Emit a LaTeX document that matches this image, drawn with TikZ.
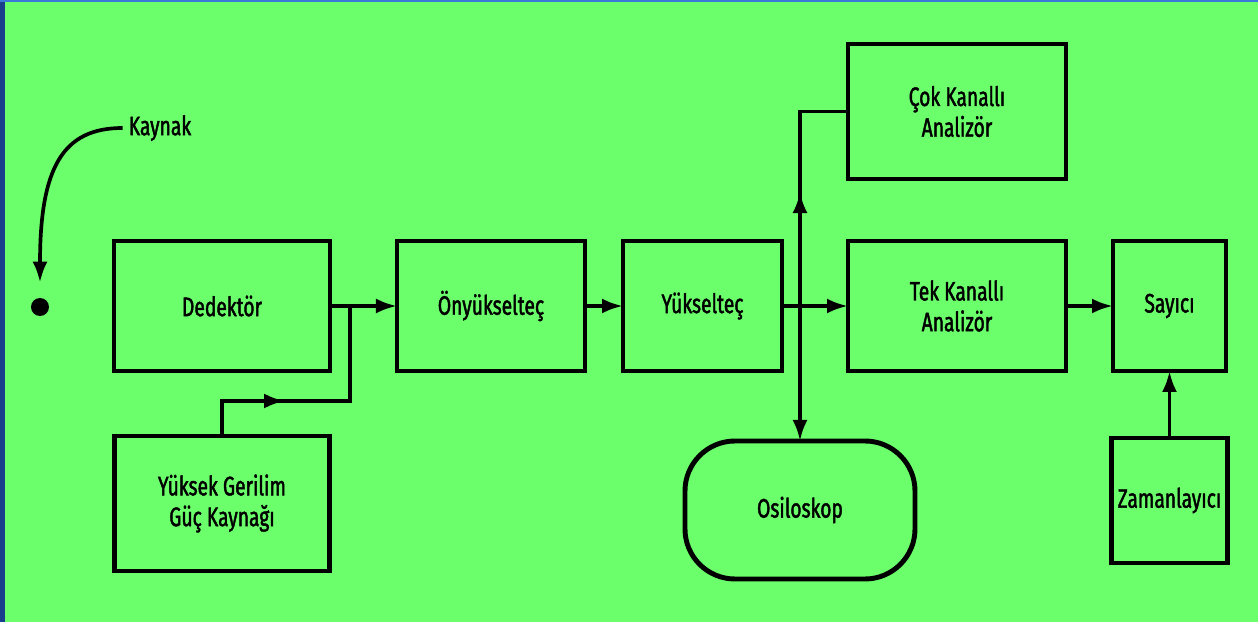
\documentclass[tikz,border=0pt]{standalone}
\usepackage{fontspec}
\setmainfont{Fira Sans}[FakeStretch=0.72, FakeBold=1.6]
\usetikzlibrary{arrows.meta,positioning,calc,decorations.markings}
\definecolor{bggreen}{RGB}{108,255,108}
\definecolor{edgeblue}{RGB}{24,62,140}
\definecolor{topblue}{RGB}{60,120,215}
\newcommand\labelfont{\fontsize{15.2}{17.5}\selectfont}
\tikzset{
  blockbox/.style={rectangle, draw=black, line width=2.8pt, outer sep=0pt, minimum height=2.6cm, align=center, font=\labelfont},
  link/.style={line width=2.1pt},
  arrow/.style={link, -{Latex[length=4.2mm,width=3mm]}},
  midarrow/.style={link, postaction={decorate}, decoration={markings, mark=at position #1 with {\arrow{Latex[length=4.2mm,width=3mm]}}}}
}
\begin{document}
\begin{tikzpicture}[node distance=1cm]
% background
\fill[bggreen] (-4.44,-6.32) rectangle (20.72,6.12);
\fill[edgeblue] (-4.44,-6.32) rectangle (-4.33,6.12);
\fill[topblue] (-4.44,6.08) rectangle (20.72,6.12);
\useasboundingbox (-4.44,-6.32) rectangle (20.72,6.12);

% source
\node[font=\labelfont] (kaynak) at (-1.24,3.56) {Kaynak};
\node[circle, fill=black, inner sep=0pt, minimum width=0.3cm, minimum height=0.36cm] (src) at (-3.64,-0.02) {};

% main chain
\node[blockbox, minimum width=4.32cm] (ded) {Dedektör};
\node[blockbox, minimum width=3.76cm, right=1.34cm of ded] (onyuk) {Önyükselteç};
\node[blockbox, minimum width=3.18cm, right=0.76cm of onyuk] (yuk) {Yükselteç};
\node[blockbox, minimum width=4.36cm, right=1.32cm of yuk] (tek) {Tek Kanallı\\Analizör};
\node[blockbox, minimum width=2.26cm, right=0.94cm of tek] (say) {Sayıcı};

% side boxes
\node[blockbox, minimum width=4.36cm, minimum height=2.7cm, above=1.24cm of tek] (cok) {Çok Kanallı\\Analizör};
\node[blockbox, minimum width=4.3cm, minimum height=2.7cm, below=1.3cm of ded] (hv) {Yüksek Gerilim\\Güç Kaynağı};
\node[blockbox, minimum width=2.26cm, minimum height=2.5cm, below=1.34cm of say] (zam) {Zamanlayıcı};

% branch points
\coordinate[right=0.4cm of ded.east] (tap);
\coordinate[below=1.9cm of tap] (bend);
\coordinate[right=0.36cm of yuk.east] (split);

\node[blockbox, rounded corners=1cm, minimum width=4.6cm, minimum height=2.76cm, below=2.7cm of split] (osc) {Osiloskop};

% connectors
\draw[arrow, shorten >=0.3cm] (kaynak.west) .. controls +(-1.2,0) and +(0,2.6) .. (src.north);
\draw[arrow] (ded) -- (onyuk);
\draw[arrow] (onyuk) -- (yuk);
\draw[arrow] (yuk) -- (tek);
\draw[arrow] (tek) -- (say);
\draw[arrow] (zam) -- (say);
\draw[midarrow=0.38] (hv.north) |- (bend) -- (tap);
\draw[midarrow=0.47] (split) |- (cok.west);
\draw[arrow] (split) -- (osc);
\end{tikzpicture}
\end{document}
